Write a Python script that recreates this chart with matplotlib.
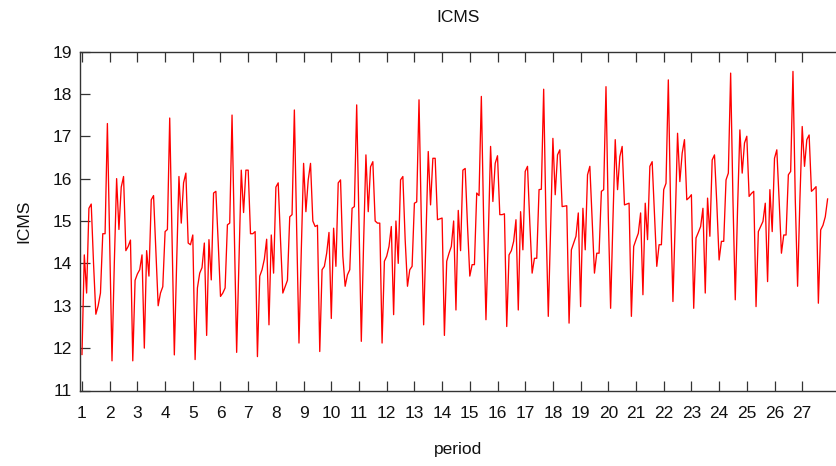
import matplotlib
matplotlib.use("Agg")
import matplotlib.pyplot as plt
from matplotlib import font_manager

# ---- data ----
start_period = 1
obs_per_period = 12

icms = [
    11.85, 14.2, 13.3, 15.3, 15.4, 14.0, 12.8, 13.0, 13.3, 14.7, 14.7,
    17.3, 14.5, 11.7, 14.0, 16.0, 14.8, 15.8, 16.05, 14.3, 14.4, 14.55, 11.7, 13.6, 13.75,
    13.85, 14.2, 12.0, 14.3, 13.7, 15.5, 15.6, 14.3, 13.0, 13.3, 13.45, 14.75, 14.8,
    17.43, 14.6, 11.84, 14.0, 16.05, 14.95, 15.9, 16.13, 14.48, 14.44, 14.67, 11.73, 13.42, 13.77,
    13.9, 14.48, 12.3, 14.56, 13.61, 15.66, 15.7, 14.5, 13.22, 13.3, 13.42, 14.91, 14.95,
    17.5, 14.7, 11.9, 14.0, 16.2, 15.2, 16.2, 16.2, 14.7, 14.7, 14.75, 11.8, 13.7, 13.85,
    14.1, 14.57, 12.55, 14.67, 13.77, 15.8, 15.9, 14.55, 13.3, 13.45, 13.6, 15.1, 15.15,
    17.62, 14.8, 12.12, 14.3, 16.36, 15.22, 15.97, 16.36, 15.0, 14.87, 14.9, 11.92, 13.85, 13.93,
    14.24, 14.73, 12.7, 14.83, 13.93, 15.9, 15.97, 14.17, 13.46, 13.73, 13.85, 15.3, 15.34,
    17.74, 14.9, 12.16, 14.5, 16.56, 15.22, 16.28, 16.4, 15.0, 14.95, 14.95, 12.12, 14.05, 14.17,
    14.4, 14.87, 12.79, 15.0, 14.0, 15.97, 16.05, 14.56, 13.46, 13.85, 13.93, 15.42, 15.45,
    17.86, 15.0, 12.55, 14.6, 16.64, 15.38, 16.48, 16.48, 15.03, 15.05, 15.07, 12.3, 14.05, 14.24,
    14.4, 15.0, 12.9, 15.25, 14.3, 16.2, 16.24, 14.9, 13.7, 13.97, 13.97, 15.66, 15.6,
    17.94, 15.0, 12.67, 14.6, 16.76, 15.46, 16.36, 16.54, 15.15, 15.15, 15.17, 12.51, 14.2, 14.3,
    14.52, 15.03, 12.9, 15.22, 14.32, 16.17, 16.29, 14.95, 13.77, 14.12, 14.12, 15.74, 15.75,
    18.11, 15.0, 12.75, 14.8, 16.95, 15.62, 16.56, 16.68, 15.34, 15.35, 15.36, 12.59, 14.32, 14.48,
    14.64, 15.19, 12.98, 15.3, 14.32, 16.09, 16.29, 15.03, 13.77, 14.24, 14.24, 15.7, 15.74,
    18.17, 15.1, 12.94, 15.0, 16.92, 15.74, 16.52, 16.76, 15.38, 15.4, 15.42, 12.75, 14.4, 14.56,
    14.71, 15.19, 13.26, 15.42, 14.56, 16.29, 16.4, 15.19, 13.93, 14.44, 14.44, 15.74, 15.89,
    18.33, 15.3, 13.1, 15.0, 17.07, 15.93, 16.6, 16.92, 15.5, 15.55, 15.62, 12.94, 14.6, 14.73,
    14.87, 15.3, 13.3, 15.54, 14.64, 16.44, 16.56, 15.42, 14.08, 14.52, 14.52, 15.97, 16.13,
    18.49, 15.5, 13.14, 15.3, 17.15, 16.13, 16.84, 17.0, 15.58, 15.65, 15.7, 12.98, 14.75, 14.87,
    14.99, 15.42, 13.57, 15.74, 14.75, 16.48, 16.68, 15.5, 14.24, 14.67, 14.67, 16.09, 16.17,
    18.53, 15.5, 13.46, 15.5, 17.23, 16.29, 16.92, 17.03, 15.7, 15.75, 15.81, 13.06, 14.79, 14.9,
    15.1, 15.52,
]
x_ticks = list(range(1, 28))
y_ticks = list(range(11, 20))
title = "ICMS"
x_label = "period"
y_label = "ICMS"

periods = [start_period + i / obs_per_period for i in range(len(icms))]

# ---- font ----
avail = {f.name for f in font_manager.fontManager.ttflist}
fam = [f for f in ["Liberation Sans Narrow", "Liberation Sans", "DejaVu Sans"] if f in avail] or ["DejaVu Sans"]
plt.rcParams["font.family"] = fam

fig = plt.figure(figsize=(8.36, 4.66), dpi=100)
ax = fig.add_axes([79.5 / 836, 1 - 390.5 / 466, 1 - 79.5 / 836, (390.5 - 51.5) / 466])

ax.plot(periods, icms, color="#ff0000", linewidth=0.95, antialiased=True)

ax.set_xlim(0.91, 28.22)
ax.set_ylim(11, 19)
ax.set_xticks(x_ticks)
ax.set_yticks(y_ticks)

for s in ["left", "bottom", "top"]:
    ax.spines[s].set_color("#333333")
    ax.spines[s].set_linewidth(1.0)
ax.spines["right"].set_visible(False)

ax.tick_params(axis="both", direction="in", length=7, width=0.9, color="#333333",
               labelsize=12.5, labelcolor="#111111")
ax.tick_params(axis="x", top=True, pad=11)
ax.tick_params(axis="y", right=False, pad=5.5)

ax.set_title(title, fontsize=12.5, pad=21, color="#111111")
ax.set_xlabel(x_label, fontsize=12.5, labelpad=15, color="#111111")
ax.set_ylabel(y_label, fontsize=12.5, labelpad=15, color="#111111")

fig.savefig("out.png", dpi=100)
